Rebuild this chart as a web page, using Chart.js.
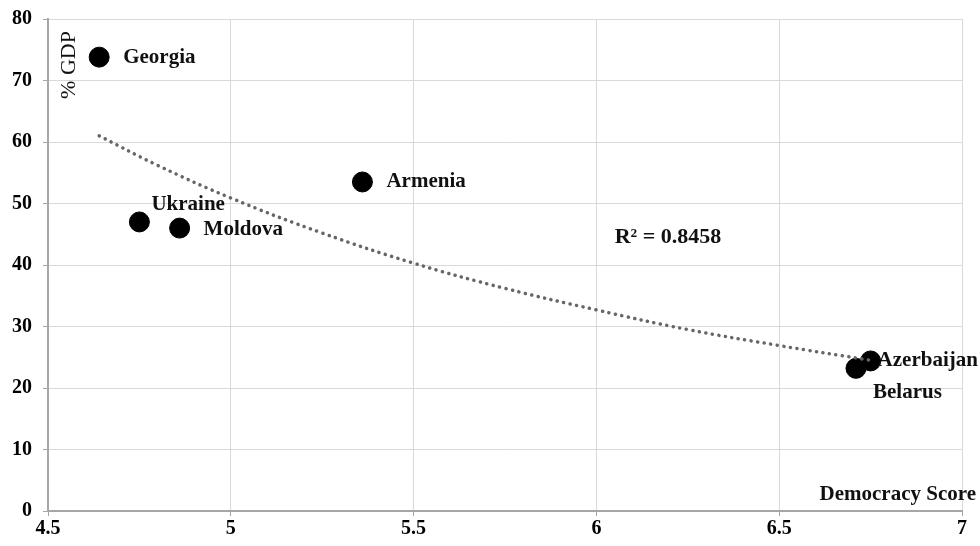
<!DOCTYPE html>
<html>
<head>
<meta charset="utf-8">
<script src="https://cdn.jsdelivr.net/npm/chart.js@4"></script>
<style>
  html, body { margin: 0; padding: 0; background: #fff; }
  #wrap { width: 980px; height: 546px; position: relative; }
</style>
</head>
<body>
<div id="wrap"><canvas id="chart" width="980" height="546"></canvas></div>
<script>
// countries with democracy score (x) and % GDP (y)
const countries = ["Georgia", "Ukraine", "Moldova", "Armenia", "Belarus", "Azerbaijan"];
const democracyScore = [4.64, 4.75, 4.86, 5.36, 6.71, 6.75];
const pctGdp = [73.8, 47.0, 46.0, 53.5, 23.2, 24.4];

// trendline
const trendX = [4.64, 4.8, 5.0, 5.25, 5.5, 5.75, 6.0, 6.25, 6.5, 6.75];
const trendY = [61.0, 56.2, 50.9, 45.2, 40.3, 36.2, 32.7, 29.5, 26.9, 24.5];

const xTicks = [4.5, 5, 5.5, 6, 6.5, 7];
const yTicks = [0, 10, 20, 30, 40, 50, 60, 70, 80];
const rSquared = "R\u00b2 = 0.8458";

const serif = "'Liberation Serif', 'DejaVu Serif', serif";

// label offsets for each country (px from the point)
const labelPos = {
  Georgia: { dx: 24, dy: 0 },
  Ukraine: { dx: 12, dy: -17 },
  Moldova: { dx: 24, dy: 1 },
  Armenia: { dx: 24, dy: 0 },
  Belarus: { dx: 17, dy: 24 },
  Azerbaijan: { dx: 7, dy: 0 },
};

const labelsPlugin = {
  id: "pointLabels",
  afterDatasetsDraw(chart) {
    const ctx = chart.ctx;
    const meta = chart.getDatasetMeta(1);
    ctx.save();
    ctx.fillStyle = "#111";
    ctx.font = "bold 21px " + serif;
    ctx.textBaseline = "middle";
    ctx.textAlign = "left";
    meta.data.forEach((pt, i) => {
      const off = labelPos[countries[i]];
      ctx.fillText(countries[i], pt.x + off.dx, pt.y + off.dy);
    });

    const xs = chart.scales.x, ys = chart.scales.y;
    // R squared
    ctx.font = "bold 22px " + serif;
    ctx.fillText(rSquared, xs.getPixelForValue(6.05), ys.getPixelForValue(44.5));
    // axis titles
    ctx.textAlign = "right";
    ctx.font = "bold 21px " + serif;
    ctx.fillText("Democracy Score", chart.width - 4, chart.chartArea.bottom - 16);
    ctx.translate(chart.chartArea.left + 21, chart.chartArea.top + 46);
    ctx.rotate(-Math.PI / 2);
    ctx.textAlign = "center";
    ctx.font = "22px " + serif;
    ctx.fillText("% GDP", 0, 0);
    ctx.restore();
  }
};

new Chart(document.getElementById("chart"), {
  type: "scatter",
  data: {
    datasets: [
      {
        label: "trend",
        data: trendX.map((x, i) => ({ x: x, y: trendY[i] })),
        showLine: true,
        borderColor: "#666",
        borderWidth: 3.5,
        borderDash: [0.1, 6.5],
        borderCapStyle: "round",
        tension: 0.4,
        pointRadius: 0,
        fill: false,
      },
      {
        label: "countries",
        data: democracyScore.map((x, i) => ({ x: x, y: pctGdp[i] })),
        backgroundColor: "#000",
        borderColor: "#000",
        pointRadius: 10,
        pointHoverRadius: 10,
      },
    ],
  },
  options: {
    responsive: false,
    animation: false,
    layout: { padding: { top: 19, right: 18, left: 0, bottom: 0 } },
    plugins: { legend: { display: false }, tooltip: { enabled: false } },
    scales: {
      x: {
        type: "linear",
        min: 4.5,
        max: 7,
        afterBuildTicks: (s) => { s.ticks = xTicks.map(v => ({ value: v })); },
        afterFit: (s) => { s.height = 35; s.paddingLeft = 0; s.paddingRight = 0; },
        ticks: {
          color: "#000",
          font: { family: serif, size: 20, weight: "bold" },
          padding: 1,
          maxRotation: 0,
          callback: (v) => String(v),
        },
        grid: { color: "#d9d9d9", lineWidth: 1, tickLength: 5, tickColor: "#a6a6a6" },
        border: { color: "#a6a6a6", width: 2 },
      },
      y: {
        min: 0,
        max: 80,
        afterBuildTicks: (s) => { s.ticks = yTicks.map(v => ({ value: v })); },
        afterFit: (s) => { s.width = 48; s.paddingTop = 0; s.paddingBottom = 0; },
        ticks: {
          color: "#000",
          font: { family: serif, size: 20, weight: "bold" },
          padding: 11,
        },
        grid: { color: "#d9d9d9", lineWidth: 1, tickLength: 5, tickColor: "#a6a6a6" },
        border: { color: "#a6a6a6", width: 2 },
      },
    },
  },
  plugins: [labelsPlugin],
});
</script>
</body>
</html>
